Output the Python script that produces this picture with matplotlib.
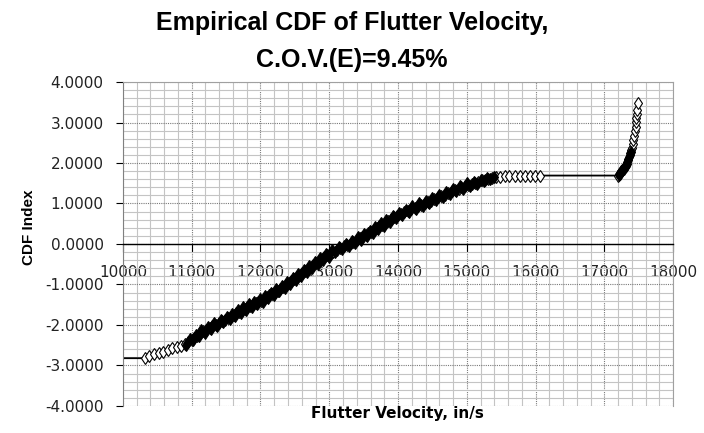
import matplotlib
matplotlib.use("Agg")
import matplotlib.pyplot as plt
from matplotlib.ticker import MultipleLocator, FormatStrFormatter

plt.rcParams['font.family'] = ['Liberation Sans', 'DejaVu Sans']

# flutter velocity (in/s) and CDF index
velocity = [
    9900, 10320, 10380, 10450, 10520, 10580, 10650, 10720, 10790, 10850, 10900,
    10950, 11000, 11040, 11080, 11120, 11170, 11210, 11260, 11300, 11350,
    11400, 11440, 11490, 11530, 11570, 11610, 11650, 11690, 11730, 11770,
    11810, 11850, 11890, 11930, 11970, 12010, 12050, 12090, 12130, 12170,
    12210, 12250, 12290, 12330, 12370, 12410, 12450, 12490, 12530, 12570,
    12610, 12650, 12690, 12730, 12770, 12810, 12850, 12890, 12930, 12970,
    13010, 13060, 13110, 13160, 13210, 13260, 13310, 13350, 13400, 13440,
    13480, 13530, 13570, 13610, 13650, 13690, 13730, 13770, 13810, 13850,
    13900, 13945, 13990, 14040, 14090, 14140, 14190, 14240, 14290, 14340,
    14390, 14430, 14480, 14530, 14580, 14630, 14680, 14730, 14780, 14830,
    14880, 14920, 14970, 15020, 15070, 15120, 15170, 15220, 15270, 15310,
    15360, 15420, 15480, 15550, 15620, 15700, 15780, 15850, 15920, 15990,
    16065, 17205, 17215, 17230, 17250, 17270, 17290, 17310, 17327, 17345,
    17360, 17375, 17390, 17400, 17415, 17425, 17435, 17447, 17455, 17462,
    17468, 17474, 17480, 17486,
]
cdf_index = [
    -2.82, -2.82, -2.77, -2.72, -2.68, -2.66, -2.62, -2.58, -2.55, -2.51, -2.47,
    -2.41, -2.36, -2.31, -2.27, -2.20, -2.16, -2.12, -2.08, -2.03, -1.99,
    -1.94, -1.90, -1.87, -1.83, -1.80, -1.75, -1.71, -1.67, -1.63, -1.60,
    -1.56, -1.53, -1.49, -1.46, -1.43, -1.40, -1.35, -1.31, -1.27, -1.23,
    -1.19, -1.15, -1.10, -1.06, -1.01, -0.97, -0.92, -0.87, -0.82, -0.77,
    -0.72, -0.67, -0.62, -0.57, -0.52, -0.47, -0.42, -0.37, -0.32, -0.28,
    -0.24, -0.19, -0.14, -0.10, -0.06, -0.02, 0.02, 0.05, 0.10, 0.14,
    0.18, 0.22, 0.26, 0.30, 0.35, 0.40, 0.44, 0.48, 0.52, 0.56,
    0.61, 0.66, 0.70, 0.74, 0.78, 0.82, 0.86, 0.90, 0.94, 0.97,
    1.00, 1.03, 1.07, 1.11, 1.15, 1.18, 1.22, 1.26, 1.30, 1.33,
    1.37, 1.40, 1.43, 1.46, 1.48, 1.51, 1.54, 1.57, 1.59, 1.61,
    1.63, 1.65, 1.66, 1.67, 1.68, 1.68, 1.69, 1.69, 1.69, 1.69,
    1.69, 1.69, 1.72, 1.76, 1.80, 1.84, 1.88, 1.93, 1.98, 2.07,
    2.15, 2.24, 2.32, 2.38, 2.48, 2.57, 2.66, 2.78, 2.90, 3.02,
    3.12, 3.22, 3.32, 3.49,
]

# dense part of the sample, where the markers merge into a black band
velocity_band = [
    10920, 10970, 11020, 11060, 11100, 11140, 11190, 11230, 11280, 11320,
    11370, 11420, 11460, 11510, 11550, 11590, 11630, 11670, 11710, 11750,
    11790, 11830, 11870, 11910, 11950, 11990, 12030, 12070, 12110, 12150,
    12190, 12230, 12270, 12310, 12350, 12390, 12430, 12470, 12510, 12550,
    12590, 12630, 12670, 12710, 12750, 12790, 12830, 12870, 12910, 12950,
    12990, 13040, 13090, 13140, 13190, 13240, 13290, 13330, 13380, 13420,
    13460, 13510, 13550, 13590, 13630, 13670, 13710, 13750, 13790, 13830,
    13880, 13920, 13970, 14010, 14060, 14110, 14160, 14210, 14260, 14310,
    14360, 14410, 14450, 14500, 14550, 14600, 14650, 14700, 14750, 14800,
    14850, 14900, 14950, 15000, 15050, 15100, 15150, 15200, 15250, 15290,
    15340, 15390,
    17210, 17222, 17240, 17260, 17280, 17300, 17318, 17336, 17352, 17368, 17382,
]
cdf_band = [
    -2.49, -2.34, -2.38, -2.24, -2.28, -2.13, -2.19, -2.05, -2.10, -1.96,
    -2.02, -1.87, -1.93, -1.80, -1.86, -1.72, -1.78, -1.64, -1.70, -1.56,
    -1.63, -1.49, -1.56, -1.42, -1.49, -1.36, -1.42, -1.28, -1.34, -1.20,
    -1.26, -1.12, -1.17, -1.03, -1.08, -0.94, -0.99, -0.84, -0.89, -0.74,
    -0.79, -0.64, -0.69, -0.54, -0.59, -0.44, -0.49, -0.34, -0.39, -0.25,
    -0.31, -0.16, -0.21, -0.07, -0.13, 0.01, -0.05, 0.08, 0.03, 0.17,
    0.11, 0.25, 0.19, 0.33, 0.27, 0.42, 0.37, 0.51, 0.45, 0.59,
    0.54, 0.68, 0.63, 0.77, 0.71, 0.85, 0.79, 0.93, 0.87, 1.00,
    0.93, 1.07, 1.00, 1.14, 1.08, 1.21, 1.15, 1.29, 1.23, 1.36,
    1.30, 1.43, 1.37, 1.50, 1.42, 1.54, 1.49, 1.59, 1.55, 1.63,
    1.60, 1.66,
    1.70, 1.74, 1.78, 1.82, 1.86, 1.90, 1.95, 2.02, 2.11, 2.20, 2.28,
]

fig = plt.figure(figsize=(7.04, 4.33), dpi=100)
ax = fig.add_axes([0.1747, 0.0624, 0.956 - 0.1747, 0.8106 - 0.0624])

ax.plot(velocity, cdf_index, color='black', lw=1.3, marker='d', ms=6.5,
        mfc='white', mec='black', mew=0.8, zorder=2)
ax.plot(velocity_band, cdf_band, ls='none', marker='d', ms=6.5,
        mfc='black', mec='black', mew=0.8, zorder=3)

ax.set_xlim(10000, 18000)
ax.set_ylim(-4, 4)
ax.xaxis.set_major_locator(MultipleLocator(1000))
ax.xaxis.set_minor_locator(MultipleLocator(200))
ax.yaxis.set_major_locator(MultipleLocator(1))
ax.yaxis.set_minor_locator(MultipleLocator(0.2))
ax.yaxis.set_major_formatter(FormatStrFormatter('%.4f'))

ax.grid(which='major', color='#7a7a7a', lw=0.8, ls=(0, (1, 1)))
ax.grid(which='minor', color='#c4c4c4', lw=0.8)
ax.set_axisbelow(True)

# x axis crosses at y = 0
ax.spines['bottom'].set_position(('data', 0))
ax.spines['bottom'].set_color('black')
ax.spines['bottom'].set_linewidth(1.0)
ax.spines['left'].set_color('#808080')
for s in ['top', 'right']:
    ax.spines[s].set_color('#a0a0a0')
    ax.spines[s].set_linewidth(0.8)

ax.tick_params(axis='x', which='major', direction='out', length=6, pad=9,
               labelsize=11, colors='black', labelcolor='#222222')
ax.tick_params(axis='y', which='major', direction='out', length=5, pad=9,
               labelsize=11, labelcolor='#222222')
ax.tick_params(which='minor', length=0)
for lab in ax.get_xticklabels() + ax.get_yticklabels():
    lab.set_family('DejaVu Sans')

fig.text(0.5, 0.947, 'Empirical CDF of Flutter Velocity,', ha='center', va='center',
         fontsize=18, fontweight='bold')
fig.text(0.5, 0.862, 'C.O.V.(E)=9.45%', ha='center', va='center',
         fontsize=18, fontweight='bold')
fig.text(0.565, 0.045, 'Flutter Velocity, in/s', ha='center', va='center',
         fontsize=11, fontweight='bold', family='DejaVu Sans')
fig.text(0.041, 0.476, 'CDF Index', ha='center', va='center', rotation=90,
         fontsize=11, fontweight='bold')

fig.savefig('out.png', dpi=100)
